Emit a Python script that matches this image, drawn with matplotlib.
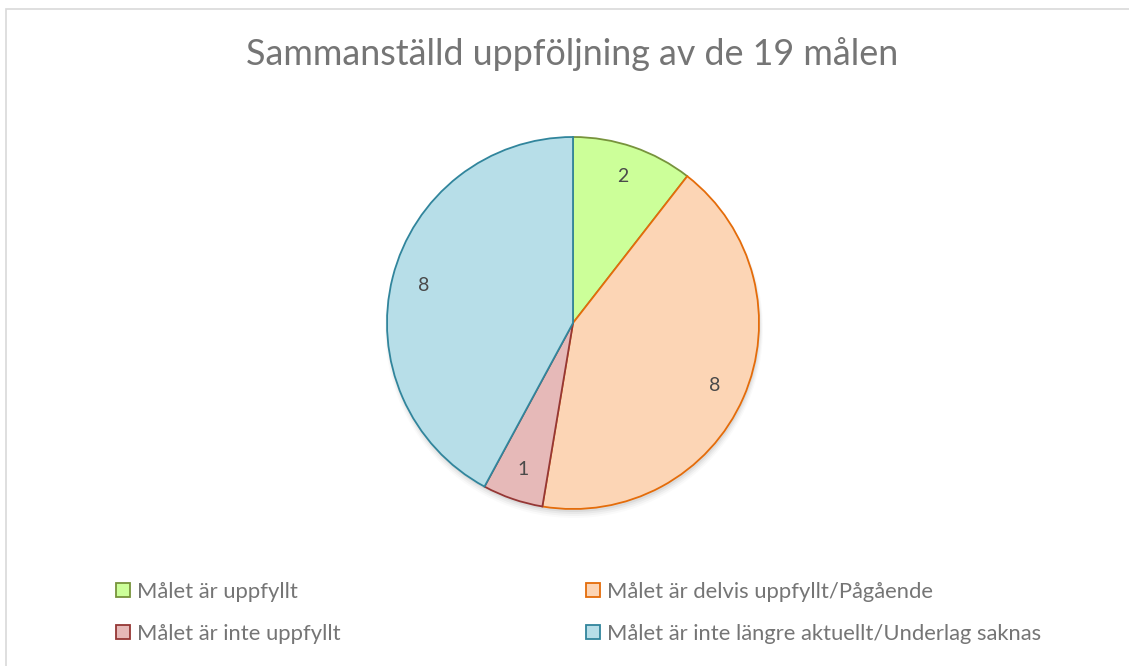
import matplotlib.pyplot as plt
from matplotlib.patches import Patch, Rectangle

plt.rcParams['font.family'] = ['Lato', 'DejaVu Sans']

title = "Sammanställd uppföljning av de 19 målen"
categories = ["Målet är uppfyllt", "Målet är delvis uppfyllt/Pågående",
              "Målet är inte uppfyllt", "Målet är inte längre aktuellt/Underlag saknas"]
values = [2, 8, 1, 8]
fills = ["#CCFF99", "#FCD5B5", "#E6B9B8", "#B7DEE8"]
edges = ["#77933C", "#E46C0A", "#953735", "#31859C"]
text_color = "#757575"
label_color = "#4A4A4A"

W, H = 1129, 666
fig = plt.figure(figsize=(W / 100, H / 100), dpi=100)
ax = fig.add_axes([0, 0, 1, 1])

# chart frame
ax.add_patch(Rectangle((6, -5), W, H - 4, fill=False, edgecolor="#D9D9D9", lw=1.2))

cx, cy, r = 573, H - 323, 186

# soft drop shadow under the pie
for i, a in enumerate([0.05, 0.04, 0.03, 0.02]):
    sh = plt.Circle((cx + 1, cy - 3 - i), r + i, color="black", alpha=a, lw=0, zorder=1)
    ax.add_patch(sh)

wedges, _, autotexts = ax.pie(values, colors=fills, startangle=90, counterclock=False,
                              center=(cx, cy), radius=r, frame=True,
                              autopct=lambda p: f"{round(p * sum(values) / 100):d}",
                              pctdistance=0.83,
                              wedgeprops=dict(linewidth=1.3),
                              textprops=dict(color=label_color, fontsize=14))
for w, e in zip(wedges, edges):
    w.set_edgecolor(e)
    w.set_zorder(2)
for t in autotexts:
    t.set_zorder(3)
ax.set_xlim(0, W)
ax.set_ylim(0, H)
ax.set_aspect('equal')
ax.axis('off')

fig.text(572 / W, 1 - 54 / H, title, ha='center', va='center', fontsize=25.8, color=text_color)

handles = [Patch(facecolor=f, edgecolor=e, linewidth=1.3) for f, e in zip(fills, edges)]
leg_kw = dict(frameon=False, fontsize=15.8, labelcolor=text_color, handlelength=0.65,
              handleheight=0.65, handletextpad=0.3, labelspacing=1.0, loc='upper left')
fig.legend([handles[0], handles[2]], [categories[0], categories[2]],
           bbox_to_anchor=(96 / W, 1 - 562 / H), **leg_kw)
fig.legend([handles[1], handles[3]], [categories[1], categories[3]],
           bbox_to_anchor=(566 / W, 1 - 562 / H), **leg_kw)

fig.savefig("out.png", dpi=100)
